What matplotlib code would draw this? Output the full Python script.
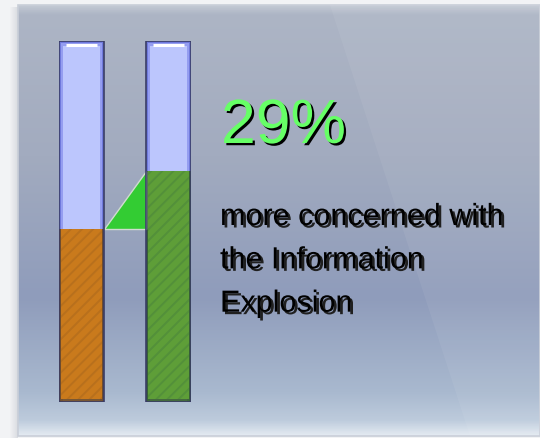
import numpy as np
import matplotlib
matplotlib.use("Agg")
import matplotlib.pyplot as plt
import matplotlib.patheffects as pe
from matplotlib.colors import LinearSegmentedColormap
from matplotlib.patches import Polygon, Rectangle

# ---- data ----
categories = ["Before", "After"]
values = [48, 64]
scale_max = 100
headline = "29%"
caption = "more concerned with\nthe Information\nExplosion"

plt.rcParams['font.family'] = ['Liberation Sans', 'DejaVu Sans']
plt.rcParams['hatch.linewidth'] = 1.4

W, H = 540, 439
fig = plt.figure(figsize=(W / 100, H / 100), dpi=100)
fig.patch.set_facecolor('#f2f3f5')

# ---- background panel ----
bg = fig.add_axes([0, 0, 1, 1])
bg.set_xlim(0, W)
bg.set_ylim(H, 0)
bg.axis('off')
for i, a in enumerate(np.linspace(0.02, 0.18, 8)):
    bg.add_patch(Rectangle((10 + i, 8), 1, H, color='#707888', alpha=a, lw=0))
stops = [(0.0, '#c3c9d3'), (0.02, '#adb5c5'), (0.35, '#a2abbf'),
         (0.68, '#8f9cbb'), (0.9, '#a9b9cf'), (0.965, '#bdcbdc'), (1.0, '#e3eaf1')]
cmap = LinearSegmentedColormap.from_list('panel', stops)
grad = np.linspace(0, 1, 256).reshape(-1, 1)
bg.imshow(grad, cmap=cmap, extent=(18, W, 437, 6), aspect='auto', zorder=1)
bg.add_patch(Rectangle((18, 6), W - 18, 431, fill=False, ec='#c9ced8', lw=1.2, zorder=2))
bg.add_patch(Polygon([(330, 6), (W, 6), (W, 437), (470, 437)], closed=True,
                     fc='white', alpha=0.06, lw=0, zorder=2))

# ---- bars ----
bw = 45 / 87
ax = fig.add_axes([59 / W, (H - 403) / H, 132 / W, 361 / H])
ax.set_xlim(-bw / 2, 1 + bw / 2)
ax.set_ylim(0, scale_max)
ax.axis('off')
ax.patch.set_alpha(0)

x = np.arange(len(categories))
fill_colors = ['#c97a1c', '#5e9e38']
hatch_colors = ['#b8701c', '#53903a']
edge_dark = ['#6e4410', '#2f5a1c']

ax.bar(x, [scale_max] * len(x), width=bw, color='#6f79dc', linewidth=0, zorder=2)
ax.bar(x, [scale_max - 0.6] * len(x), width=bw - 0.05, color='#949df0', linewidth=0, zorder=2)
ax.bar(x, [scale_max - 1.4] * len(x), width=bw - 0.1, color='#bcc6fd', linewidth=0, zorder=2)
ax.bar(x, values, width=bw, color=edge_dark, linewidth=0, zorder=3, alpha=0.85)
ax.bar(x, [v - 0.8 for v in values], bottom=0.8, width=bw - 0.05, color=fill_colors,
       edgecolor=hatch_colors, linewidth=0, hatch='///', zorder=3)
ax.bar(x, [scale_max] * len(x), width=bw, fill=False, edgecolor='#3a3d66',
       linewidth=1.2, zorder=5)
for xi in x:
    ax.plot([xi - bw * 0.34, xi + bw * 0.34], [scale_max - 1.0, scale_max - 1.0],
            color='white', lw=2.2, solid_capstyle='butt', zorder=6)

tri = Polygon([(x[0] + bw / 2, values[0]), (x[1] - bw / 2, values[0]),
               (x[1] - bw / 2, values[1])], closed=True, fc='#33cc33',
              ec='#d0dcd0', lw=1, zorder=3)
ax.add_patch(tri)

# ---- text ----
fig.text(221 / W, 1 - 98 / H, headline, color='#66ff66', fontsize=45,
         va='top', ha='left',
         path_effects=[pe.SimplePatchShadow(offset=(1.6, -1.6), shadow_rgbFace='black', alpha=1.0),
                       pe.Normal()])
fig.text(220 / W, 1 - 203 / H, caption, color='black', fontsize=22,
         va='top', ha='left', linespacing=1.58,
         path_effects=[pe.SimplePatchShadow(offset=(1.8, -1.8), shadow_rgbFace='#202020', alpha=1.0),
                       pe.Normal()])

fig.savefig('out.png', dpi=100)
